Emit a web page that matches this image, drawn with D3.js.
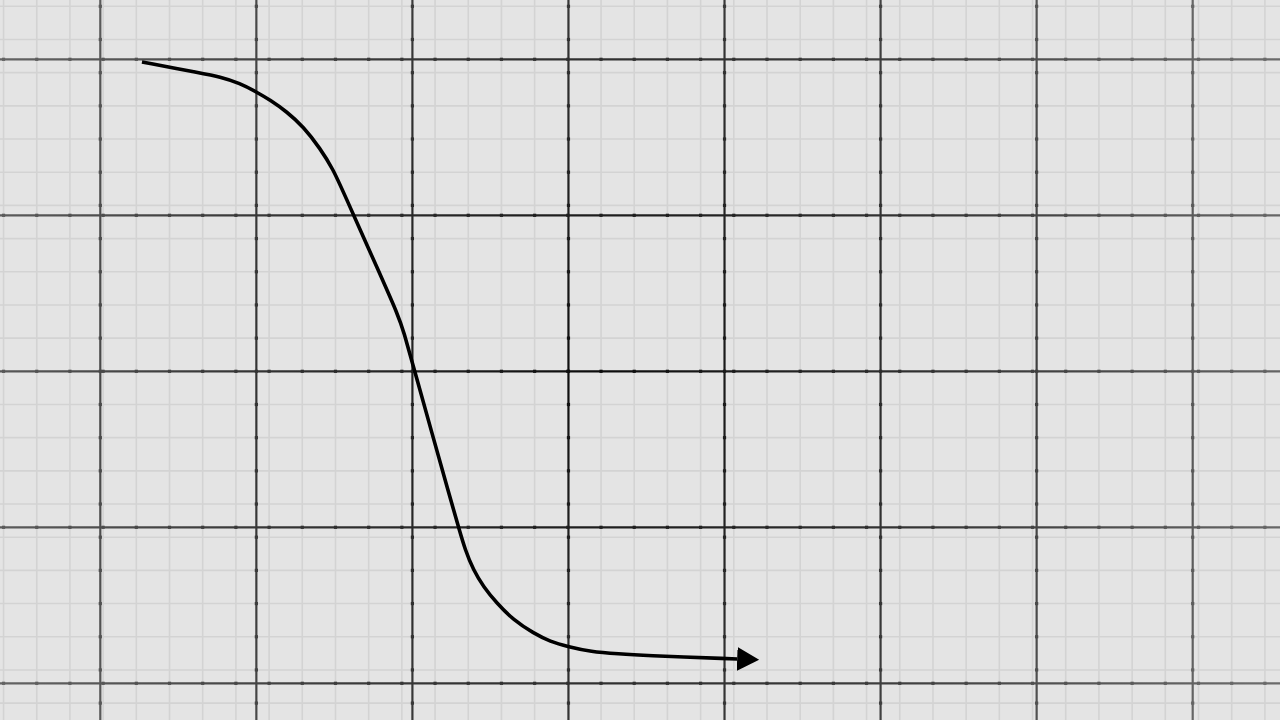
<!DOCTYPE html>
<html>
<head>
<meta charset="utf-8">
<script src="https://cdn.jsdelivr.net/npm/d3@7"></script>
<style>
  html, body { margin: 0; padding: 0; background: #e4e4e4; overflow: hidden; }
  svg { display: block; }
</style>
</head>
<body>
<div id="chart"></div>
<script>
// major grid lines, in plane units
var majorX = [0, 1, 2, 3, 4, 5, 6, 7];
var majorY = [-2, -1, 0, 1, 2];
// fine grid lines (index of each fine line)
var fineXIdx = d3.range(0, 39);
var fineYIdx = d3.range(-10, 12);
var fineStep = 0.2127, fineXStart = -0.62;

// the drawn curve, plane units
var curveU = [0.267, 0.639, 0.767, 0.896, 0.998, 1.088, 1.195, 1.301, 1.409, 1.494, 1.547, 1.793, 1.908, 1.947, 1.998,
              2.263, 2.295, 2.338, 2.391, 2.455, 2.541, 2.647, 2.776, 2.883, 3.000, 3.139, 3.331, 3.460, 4.081];
var curveV = [1.983, 1.912, 1.888, 1.846, 1.792, 1.739, 1.664, 1.568, 1.429, 1.290, 1.173, 0.621, 0.361, 0.246, 0.060,
              -0.889, -0.996, -1.146, -1.274, -1.381, -1.487, -1.594, -1.679, -1.733, -1.765, -1.797, -1.812, -1.821, -1.844];

var width = 1280, height = 720;

function draw(container) {
    var svg = d3.select(container).append("svg")
        .attr("width", width)
        .attr("height", height);

    var x = d3.scaleLinear().domain([0, 7]).range([100.3, 1192.7]);
    var y = d3.scaleLinear().domain([-2, 2]).range([683.3, 59.3]);

    var defs = svg.append("defs");
    var grad = defs.append("radialGradient")
        .attr("id", "majorShade")
        .attr("gradientUnits", "userSpaceOnUse")
        .attr("cx", 600).attr("cy", 370).attr("r", 720);
    grad.append("stop").attr("offset", 0).attr("stop-color", "#0c0c0c");
    grad.append("stop").attr("offset", 0.55).attr("stop-color", "#3a3a3a");
    grad.append("stop").attr("offset", 1).attr("stop-color", "#6a6a6a");

    defs.append("marker")
        .attr("id", "arrow")
        .attr("markerUnits", "userSpaceOnUse")
        .attr("viewBox", "0 -12 22 24")
        .attr("refX", 0).attr("refY", 0)
        .attr("markerWidth", 22).attr("markerHeight", 24)
        .attr("orient", "auto")
      .append("path")
        .attr("d", "M0,-12L22,0L0,12Z")
        .attr("fill", "#000");

    svg.append("rect").attr("width", width).attr("height", height).attr("fill", "#e4e4e4");

    var fineX = fineXIdx.map(function(k) { return fineXStart + k * fineStep; });
    var fineY = fineYIdx.map(function(k) { return k * fineStep; });

    // fine grid
    var fine = svg.append("g").attr("stroke", "#d3d3d3").attr("stroke-width", 1.6);
    fine.selectAll("line.fx").data(fineX).join("line")
        .attr("class", "fx")
        .attr("x1", function(d) { return x(d); }).attr("x2", function(d) { return x(d); })
        .attr("y1", 0).attr("y2", height);
    fine.selectAll("line.fy").data(fineY).join("line")
        .attr("class", "fy")
        .attr("y1", function(d) { return y(d); }).attr("y2", function(d) { return y(d); })
        .attr("x1", 0).attr("x2", width);

    // major grid
    var major = svg.append("g").attr("stroke", "url(#majorShade)").attr("stroke-width", 2.2);
    major.selectAll("line.mx").data(majorX).join("line")
        .attr("class", "mx")
        .attr("x1", function(d) { return x(d); }).attr("x2", function(d) { return x(d); })
        .attr("y1", 0).attr("y2", height);
    major.selectAll("line.my").data(majorY).join("line")
        .attr("class", "my")
        .attr("y1", function(d) { return y(d); }).attr("y2", function(d) { return y(d); })
        .attr("x1", 0).attr("x2", width);

    // tick dots where fine lines cross major lines
    var dots = [];
    majorX.forEach(function(mx) { fineY.forEach(function(fy) { dots.push([mx, fy]); }); });
    majorY.forEach(function(my) { fineX.forEach(function(fx) { dots.push([fx, my]); }); });
    svg.append("g").attr("fill", "url(#majorShade)")
        .selectAll("rect").data(dots).join("rect")
        .attr("x", function(d) { return x(d[0]) - 1.6; })
        .attr("y", function(d) { return y(d[1]) - 1.6; })
        .attr("width", 3.2).attr("height", 3.2);

    // the curve
    var pts = curveU.map(function(u, i) { return [u, curveV[i]]; });
    var line = d3.line()
        .x(function(d) { return x(d[0]); })
        .y(function(d) { return y(d[1]); })
        .curve(d3.curveBasis);
    svg.append("path")
        .datum(pts)
        .attr("d", line)
        .attr("fill", "none")
        .attr("stroke", "#000")
        .attr("stroke-width", 3.6)
        .attr("stroke-linejoin", "round")
        .attr("marker-end", "url(#arrow)");
}

draw("#chart");
</script>
</body>
</html>
